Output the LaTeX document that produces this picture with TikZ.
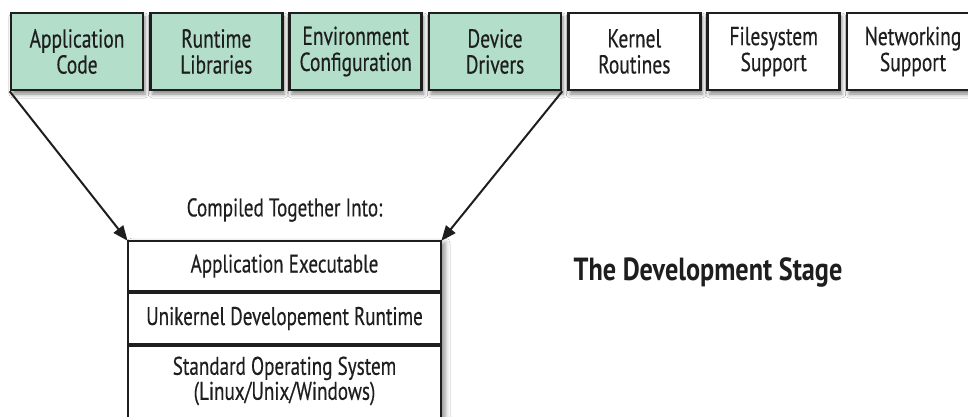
\documentclass[tikz,border=0pt]{standalone}
\usepackage{fontspec}
\setmainfont{PT Sans}[FakeStretch=0.75, FakeBold=0.4]
\newfontfamily\headfont{PT Sans}[FakeStretch=0.82]
\usetikzlibrary{arrows.meta,shadows.blur}
\definecolor{mint}{HTML}{B3DFCA}
\definecolor{ink}{HTML}{1E1E1E}
\tikzset{
  part/.style={draw=ink, line width=2.6pt, minimum width=132pt, minimum height=77pt,
    inner sep=0pt, align=center, text=ink, font=\fontsize{26}{26}\selectfont,
    blur shadow={shadow xshift=2pt, shadow yshift=-4pt, shadow blur radius=4pt, shadow opacity=50}},
  used/.style={part, fill=mint},
  spare/.style={part, fill=white},
  layer/.style={draw=ink, line width=2pt, minimum width=313pt, inner sep=0pt,
    align=center, text=ink, font=\fontsize{25.5}{25}\selectfont, fill=white},
  feed/.style={draw=ink, line width=2pt, -{Triangle[length=15pt,width=12pt]}, shorten >=-1pt}
}
\begin{document}
\begin{tikzpicture}[x=1pt, y=-1pt]
\useasboundingbox (0,0) rectangle (968,417);
\clip (0,0) rectangle (968,417);
\fill[white] (0,0) rectangle (968,417);

% components available to the build
\node[used]  (app) at (77,51.5)    {Application\\Code};
\node[used]  (rt)  at (216.3,51.5) {Runtime\\Libraries};
\node[used]  (env) at (355.7,51.5) {Environment\\Configuration};
\node[used]  (drv) at (495,51.5)   {Device\\Drivers};
\node[spare] (krn) at (634.3,51.5) {Kernel\\Routines};
\node[spare] (fs)  at (773.7,51.5) {Filesystem\\Support};
\node[spare] (net) at (913,51.5)   {Networking\\Support};

% the compiled stack
\node[draw=ink, line width=2pt, fill=white, minimum width=313pt, minimum height=200pt,
  inner sep=0pt, anchor=north,
  blur shadow={shadow xshift=4pt, shadow yshift=-2pt, shadow blur radius=5pt, shadow opacity=45}]
  (stack) at (284.5,240) {};
\node[layer, minimum height=50pt, anchor=north]  (exe) at (284.5,240) {Application Executable};
\node[layer, minimum height=51pt, anchor=north]  (uk)  at (exe.south) {Unikernel Developement Runtime};
\node[layer, minimum height=100pt, anchor=north, text depth=0pt, text height=0pt] (os) at (uk.south) {};
\node[text=ink, align=center, font=\fontsize{25.5}{25}\selectfont] (ostext) at (284.5,381)
  {Standard Operating System\\(Linux/Unix/Windows)};

\node[text=ink, font=\fontsize{25.5}{25}\selectfont] (cap) at (284.5,210) {Compiled Together Into:};
\node[text=ink, font=\headfont\bfseries\fontsize{32}{34}\selectfont] (stage) at (708,272) {The Development Stage};

% what goes into the build
\draw[feed] (app.south west) -- (stack.north west);
\draw[feed] (drv.south east) -- (stack.north east);
\end{tikzpicture}
\end{document}
